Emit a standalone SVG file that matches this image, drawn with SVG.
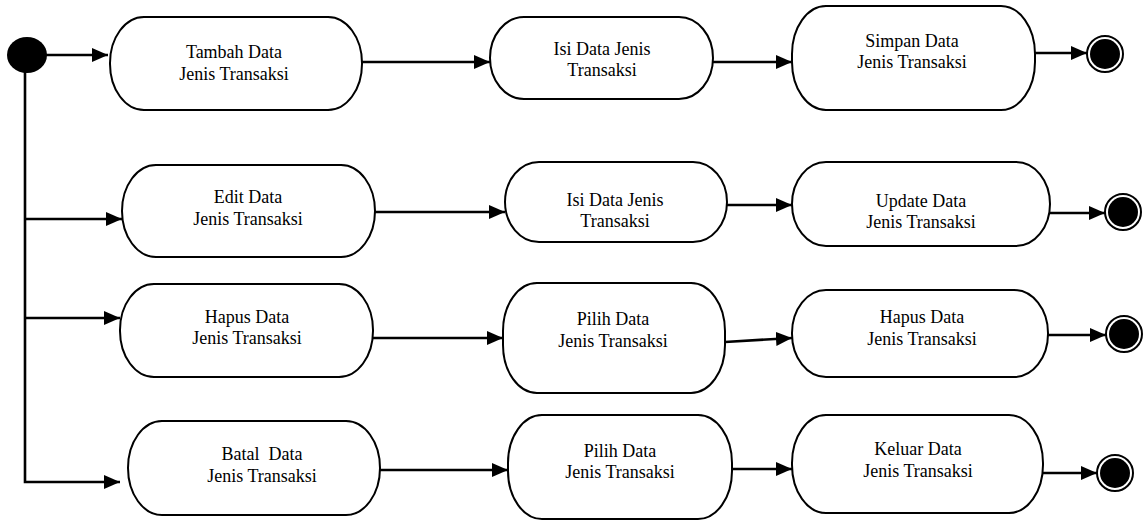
<svg xmlns="http://www.w3.org/2000/svg" width="1144" height="521" viewBox="0 0 1144 521">
  <style>
    .act { fill: #ffffff; stroke: #000000; stroke-width: 2; }
    .lbl { font-family: "Liberation Serif", "Times New Roman", serif; font-size: 18px; fill: #000000; text-anchor: middle; }
    .flow { fill: none; stroke: #000000; stroke-width: 2.6; marker-end: url(#arrow); }
    .end-ring { fill: #ffffff; stroke: #000000; stroke-width: 2; }
    .end-dot { fill: #000000; }
  </style>
  <defs>
    <marker id="arrow" viewBox="0 0 16 14" refX="16" refY="7" markerWidth="16" markerHeight="14" markerUnits="userSpaceOnUse" orient="auto">
      <path d="M0,0 L16,7 L0,14 Z" fill="#000000"/>
    </marker>
  </defs>

  <rect width="1144" height="521" fill="#ffffff"/>

  <!-- connectors -->
  <g id="connectors">
    <path class="flow" d="M45,55 H108"/>
    <path class="flow" d="M25,70 V482 H120"/>
    <path class="flow" d="M25,219 H122"/>
    <path class="flow" d="M25,318 H120"/>

    <path class="flow" d="M362,62 H490"/>
    <path class="flow" d="M710,62 H792"/>
    <path class="flow" d="M1035,53 H1087"/>

    <path class="flow" d="M375,212 H505"/>
    <path class="flow" d="M727,205 H792"/>
    <path class="flow" d="M1050,213 H1105"/>

    <path class="flow" d="M373,338 H503"/>
    <path class="flow" d="M725,342 L792,338"/>
    <path class="flow" d="M1048,335 H1106"/>

    <path class="flow" d="M380,470 H508"/>
    <path class="flow" d="M732,469 H792"/>
    <path class="flow" d="M1043,473 H1097"/>
  </g>

  <!-- initial node -->
  <g id="start">
    <ellipse cx="27" cy="55" rx="20" ry="18" fill="#000000"/>
  </g>

  <!-- row 1: tambah -->
  <g id="tambah">
    <rect class="act" x="110" y="17" width="252" height="93" rx="34" ry="46"/>
    <text class="lbl" x="234" y="58">Tambah Data</text>
    <text class="lbl" x="234" y="80">Jenis Transaksi</text>
  </g>
  <g id="isi-tambah">
    <rect class="act" x="490" y="17" width="223" height="82" rx="34" ry="41"/>
    <text class="lbl" x="602" y="55">Isi Data Jenis</text>
    <text class="lbl" x="602" y="76">Transaksi</text>
  </g>
  <g id="simpan">
    <rect class="act" x="792" y="6" width="243" height="104" rx="34" ry="48"/>
    <text class="lbl" x="912" y="47">Simpan Data</text>
    <text class="lbl" x="912" y="68">Jenis Transaksi</text>
  </g>
  <g id="end-simpan">
    <circle class="end-ring" cx="1105" cy="54" r="18"/>
    <circle class="end-dot" cx="1105" cy="54" r="15"/>
  </g>

  <!-- row 2: edit -->
  <g id="edit">
    <rect class="act" x="122" y="165" width="253" height="92" rx="34" ry="46"/>
    <text class="lbl" x="248" y="203">Edit Data</text>
    <text class="lbl" x="248" y="225">Jenis Transaksi</text>
  </g>
  <g id="isi-edit">
    <rect class="act" x="505" y="162" width="222" height="80" rx="34" ry="40"/>
    <text class="lbl" x="615" y="206">Isi Data Jenis</text>
    <text class="lbl" x="615" y="227">Transaksi</text>
  </g>
  <g id="update">
    <rect class="act" x="792" y="162" width="258" height="84" rx="34" ry="42"/>
    <text class="lbl" x="921" y="207">Update Data</text>
    <text class="lbl" x="921" y="228">Jenis Transaksi</text>
  </g>
  <g id="end-update">
    <circle class="end-ring" cx="1123" cy="212" r="18"/>
    <circle class="end-dot" cx="1123" cy="212" r="15"/>
  </g>

  <!-- row 3: hapus -->
  <g id="hapus">
    <rect class="act" x="120" y="284" width="253" height="93" rx="34" ry="46"/>
    <text class="lbl" x="247" y="323">Hapus Data</text>
    <text class="lbl" x="247" y="344">Jenis Transaksi</text>
  </g>
  <g id="pilih-hapus">
    <rect class="act" x="503" y="283" width="222" height="110" rx="34" ry="48"/>
    <text class="lbl" x="613" y="325">Pilih Data</text>
    <text class="lbl" x="613" y="347">Jenis Transaksi</text>
  </g>
  <g id="hapus-data">
    <rect class="act" x="792" y="290" width="256" height="87" rx="34" ry="43"/>
    <text class="lbl" x="922" y="323">Hapus Data</text>
    <text class="lbl" x="922" y="345">Jenis Transaksi</text>
  </g>
  <g id="end-hapus">
    <circle class="end-ring" cx="1124" cy="334" r="18"/>
    <circle class="end-dot" cx="1124" cy="334" r="15"/>
  </g>

  <!-- row 4: batal -->
  <g id="batal">
    <rect class="act" x="128" y="421" width="252" height="94" rx="34" ry="47"/>
    <text class="lbl" x="262" y="460" xml:space="preserve">Batal  Data</text>
    <text class="lbl" x="262" y="482">Jenis Transaksi</text>
  </g>
  <g id="pilih-batal">
    <rect class="act" x="508" y="415" width="224" height="104" rx="34" ry="48"/>
    <text class="lbl" x="620" y="457">Pilih Data</text>
    <text class="lbl" x="620" y="478">Jenis Transaksi</text>
  </g>
  <g id="keluar">
    <rect class="act" x="792" y="415" width="251" height="98" rx="34" ry="48"/>
    <text class="lbl" x="918" y="455">Keluar Data</text>
    <text class="lbl" x="918" y="477">Jenis Transaksi</text>
  </g>
  <g id="end-keluar">
    <circle class="end-ring" cx="1115" cy="473" r="18"/>
    <circle class="end-dot" cx="1115" cy="473" r="15"/>
  </g>
</svg>
